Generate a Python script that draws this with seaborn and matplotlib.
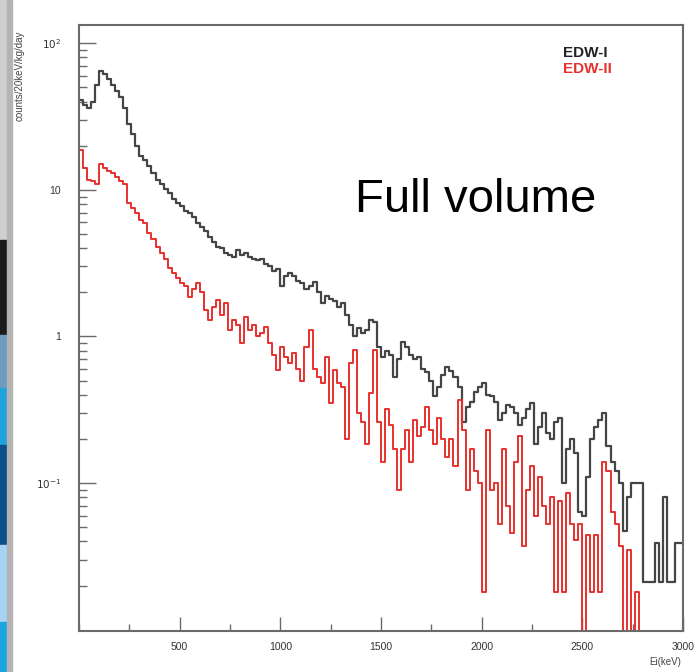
import numpy as np
import pandas as pd
import seaborn as sns
import matplotlib
matplotlib.use("Agg")
import matplotlib.pyplot as plt
from matplotlib.ticker import FixedLocator, FixedFormatter, NullFormatter, LogLocator, MultipleLocator
from matplotlib.patches import Rectangle

# ---------------- data (counts / 20 keV / kg / day) ----------------
bin_width = 20
energy_range = (0, 3000)

edw1 = [
    41, 38, 36, 40, 52, 65, 62, 57, 52, 47,
    43, 36, 28, 24, 20, 17, 16, 14.5, 13, 11.6,
    11, 10.2, 9.5, 8.6, 8.1, 7.8, 7.2, 6.9, 6.5, 5.9,
    5.6, 5.2, 4.8, 4.4, 4.1, 4.0, 3.7, 3.6, 3.5, 3.9,
    3.6, 3.7, 3.5, 3.4, 3.3, 3.4, 3.1, 3.0, 2.8, 2.9,
    2.2, 2.6, 2.7, 2.6, 2.4, 2.3, 2.1, 2.2, 2.35, 2.0,
    1.7, 1.9, 1.8, 1.75, 1.6, 1.7, 1.4, 1.2, 1.0, 1.15,
    1.05, 1.1, 1.3, 1.25, 0.85, 0.72, 0.8, 0.75, 0.53, 0.7,
    0.92, 0.85, 0.75, 0.7, 0.72, 0.6, 0.57, 0.5, 0.39, 0.45,
    0.55, 0.62, 0.58, 0.53, 0.45, 0.26, 0.33, 0.36, 0.42, 0.45,
    0.48, 0.4, 0.39, 0.36, 0.27, 0.3, 0.34, 0.33, 0.3, 0.25,
    0.28, 0.32, 0.35, 0.186, 0.24, 0.3, 0.22, 0.2, 0.26, 0.28,
    0.1, 0.17, 0.2, 0.16, 0.063, 0.06, 0.11, 0.2, 0.24, 0.27,
    0.3, 0.18, 0.14, 0.12, 0.1, 0.047, 0.08, 0.1, 0.1, 0.1,
    0.021, 0.021, 0.021, 0.039, 0.021, 0.08, 0.021, 0.021, 0.039, 0.039,
]

edw2 = [
    18.6, 14, 11.6, 11.5, 11, 15, 14, 13.5, 13, 12.3,
    11.5, 11, 8.1, 7.5, 6.9, 6.2, 5.9, 5.1, 4.6, 4.1,
    3.7, 3.4, 2.95, 2.7, 2.5, 2.3, 2.2, 1.86, 2.1, 2.3,
    2.0, 1.52, 1.3, 1.6, 1.78, 1.4, 1.7, 1.1, 1.3, 1.2,
    0.9, 1.35, 1.1, 1.2, 1.0, 1.05, 1.16, 0.9, 0.75, 0.59,
    0.85, 0.72, 0.66, 0.77, 0.6, 0.5, 0.85, 1.1, 0.6, 0.53,
    0.48, 0.72, 0.35, 0.59, 0.48, 0.45, 0.2, 0.66, 0.81, 0.3,
    0.26, 0.186, 0.41, 0.81, 0.26, 0.14, 0.32, 0.25, 0.17, 0.09,
    0.17, 0.23, 0.14, 0.27, 0.21, 0.24, 0.33, 0.23, 0.186, 0.28,
    0.2, 0.15, 0.2, 0.13, 0.37, 0.23, 0.09, 0.17, 0.12, 0.1,
    0.018, 0.23, 0.09, 0.1, 0.053, 0.17, 0.07, 0.046, 0.14, 0.21,
    0.037, 0.09, 0.13, 0.06, 0.11, 0.07, 0.053, 0.08, 0.018, 0.075,
    0.018, 0.085, 0.053, 0.041, 0.053, 0, 0.044, 0.018, 0.044, 0.018,
    0.14, 0.12, 0.063, 0.053, 0.037, 0, 0.035, 0, 0.018, 0,
    0, 0, 0, 0, 0, 0, 0, 0, 0, 0,
]

series_labels = ["EDW-I", "EDW-II"]
y_tick_values = [0.1, 1, 10, 100]
y_tick_labels = [r"$10^{-1}$", "1", "10", r"$10^{2}$"]
x_tick_values = [500, 1000, 1500, 2000, 2500, 3000]
x_tick_labels = ["500", "1000", "1500", "2000", "2500", "3000"]

edges = np.arange(energy_range[0], energy_range[1] + bin_width, bin_width)
centers = (edges[:-1] + edges[1:]) / 2
df = pd.DataFrame({"E": np.concatenate([centers, centers]),
                   "rate": np.concatenate([edw1, edw2]),
                   "det": ["EDW-I"] * len(centers) + ["EDW-II"] * len(centers)})

# ---------------- figure ----------------
sns.set_style("white")
plt.rcParams["font.family"] = ["Liberation Sans", "DejaVu Sans"]

W, H = 696, 672
fig = plt.figure(figsize=(W / 100, H / 100), dpi=100)
fig.patch.set_facecolor("white")

# slide background strip on the far left
strips = [(0, 240, "#cfcfcf"), (240, 335, "#1c1c1c"), (335, 388, "#6f9cbc"),
          (388, 445, "#1fa3dc"), (445, 545, "#0d4f8a"), (545, 622, "#a6d4f2"),
          (622, 672, "#1aa6e0")]
for y0, y1, c in strips:
    fig.patches.append(Rectangle((0, 1 - y1 / H), 7 / W, (y1 - y0) / H,
                                 transform=fig.transFigure, color=c, zorder=0))
fig.patches.append(Rectangle((7 / W, 0), 5 / W, 1, transform=fig.transFigure,
                             color="#b4b4b4", zorder=0))

left, right, top, bottom = 79, 683, 25, 631
ax = fig.add_axes([left / W, 1 - bottom / H, (right - left) / W, (bottom - top) / H])

colors = {"EDW-I": "#454545", "EDW-II": "#e8302c"}
for det, lw in [("EDW-I", 1.6), ("EDW-II", 1.4)]:
    sub = df[df.det == det]
    sns.histplot(data=sub, x="E", weights="rate", binwidth=bin_width,
                 binrange=energy_range, element="step", fill=False,
                 color=colors[det], linewidth=lw, ax=ax)

ax.set_yscale("log")
ax.set_xlim(0, 3000)
ax.set_ylim(0.0098, 133)
ax.set_xlabel("")
ax.set_ylabel("")

for s in ax.spines.values():
    s.set_color("#6a6a6a")
    s.set_linewidth(1.5)

ax.yaxis.set_major_locator(FixedLocator(y_tick_values))
ax.yaxis.set_major_formatter(FixedFormatter(y_tick_labels))
ax.yaxis.set_minor_locator(LogLocator(base=10, subs=np.arange(2, 10)))
ax.yaxis.set_minor_formatter(NullFormatter())
ax.xaxis.set_major_locator(FixedLocator(x_tick_values))
ax.xaxis.set_major_formatter(FixedFormatter(x_tick_labels))
ax.xaxis.set_minor_locator(MultipleLocator(250))

ax.tick_params(axis="y", which="major", direction="in", length=12, width=1,
               color="#6a6a6a", pad=13, labelsize=7.5, labelcolor="#333333")
ax.tick_params(axis="y", which="minor", direction="in", length=6, width=1, color="#6a6a6a")
ax.tick_params(axis="x", which="major", direction="in", length=10, width=1,
               color="#6a6a6a", pad=8, labelsize=7.5, labelcolor="#333333")
ax.tick_params(axis="x", which="minor", direction="in", length=5, width=1, color="#6a6a6a")
ax.tick_params(left=True, bottom=True, which="both")

# legend-like labels
fig.text(563 / W, 1 - 53 / H, series_labels[0], color="#222222", fontsize=11,
         fontweight="bold", ha="left", va="center")
fig.text(563 / W, 1 - 69 / H, series_labels[1], color="#e8302c", fontsize=11,
         fontweight="bold", ha="left", va="center")

fig.text(355 / W, 1 - 212 / H, "Full volume", fontsize=34, color="black",
         ha="left", va="baseline")

fig.text(20 / W, 1 - 31 / H, "counts/20keV/kg/day", rotation=90, fontsize=7,
         color="#444444", ha="center", va="top")
fig.text(681 / W, 1 - 662 / H, "Ei(keV)", fontsize=7, color="#444444",
         ha="right", va="center")

fig.savefig("out.png", dpi=100)
